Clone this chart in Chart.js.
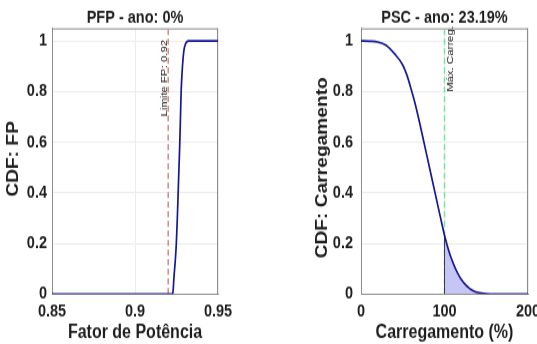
<!DOCTYPE html>
<html><head><meta charset="utf-8">
<script src="https://cdn.jsdelivr.net/npm/chart.js@4"></script>
<style>
html,body{margin:0;padding:0;background:#fff;overflow:hidden;width:537px;height:344px;}
#wrap{position:relative;width:537px;height:344px;overflow:hidden;}
canvas{position:absolute;top:0;}
</style></head><body>
<div id="wrap">
<canvas id="c1" width="250" height="287" style="left:0px;width:250px;height:344px;"></canvas>
<canvas id="c2" width="280" height="287" style="left:290px;width:280px;height:344px;"></canvas>
</div>
<script>
// ---- data ----
const fpX = [0.85, 0.922, 0.9228, 0.9235, 0.9243, 0.9249, 0.9255, 0.9260, 0.9265, 0.9270, 0.9274, 0.9278, 0.9286, 0.9294, 0.9302, 0.9312, 0.9322, 0.95];
const fpY = [0, 0, 0.005, 0.069, 0.135, 0.2, 0.3, 0.4, 0.5, 0.6, 0.7, 0.8, 0.9, 0.96, 0.984, 0.997, 1, 1];
const fpLimit = 0.92;
const fpLimitLabel = 'Limite FP: 0.92';
const fpXTicks = [0.85, 0.9, 0.95];

const carX = [0, 10, 20, 30, 40, 50, 55, 60, 65, 70, 75, 80, 85, 90, 95, 100, 105, 110, 115, 120, 125, 130, 135, 140, 150, 160, 200];
const carY = [1, 0.999, 0.996, 0.983, 0.95, 0.905, 0.865, 0.81, 0.75, 0.68, 0.605, 0.53, 0.455, 0.38, 0.305, 0.2319, 0.172, 0.125, 0.087, 0.058, 0.037, 0.022, 0.012, 0.006, 0.001, 0, 0];
const carLimit = 100;
const carLimitLabel = 'Máx. Carreg.';
const carXTicks = [0, 100, 200];

const yTicks = [0, 0.2, 0.4, 0.6, 0.8, 1];
const yMax = 1.05;

const titles = ['PFP - ano: 0%', 'PSC - ano: 23.19%'];
const xTitles = ['Fator de Potência', 'Carregamento (%)'];
const yTitles = ['CDF: FP', 'CDF: Carregamento'];

// ---- style ----
const FONT = '"Liberation Sans", Arial, Helvetica, sans-serif';
const TXT = '#1e1e1e';
const NAVY = 'rgb(22,22,150)';
const BOXC = '#8c8c8c';
const GRIDC = '#ececec';

function pts(xs, ys){ return xs.map((x,i)=>({x:x, y:ys[i]})); }

function scales(xmin, xmax, xticks, yW, yPad){
  return {
    x:{type:'linear',min:xmin,max:xmax,
      afterBuildTicks:s=>{s.ticks = xticks.map(v=>({value:v}));},
      afterFit:s=>{s.height = 41.7;},
      grid:{color:GRIDC,drawTicks:false},
      border:{color:BOXC},
      ticks:{padding:6,color:TXT,maxRotation:0,autoSkip:false,font:{family:FONT,size:14.5,weight:'bold'},callback:v=>String(v)}},
    y:{type:'linear',min:0,max:yMax,
      afterBuildTicks:s=>{s.ticks = yTicks.map(v=>({value:v}));},
      afterFit:s=>{s.width = yW;},
      grid:{color:GRIDC,drawTicks:false},
      border:{color:BOXC},
      ticks:{padding:yPad,color:TXT,autoSkip:false,font:{family:FONT,size:14.5,weight:'bold'},callback:v=>String(v)}}
  };
}

function textPlugin(idx, yTitleX, yTitleY, limitVal, limitLabel, side){
  return {
    id:'texts'+idx,
    beforeDatasetsDraw(chart){
      const ctx = chart.ctx, a = chart.chartArea;
      ctx.save();
      ctx.strokeStyle = BOXC; ctx.lineWidth = 1;
      ctx.beginPath();
      ctx.moveTo(a.left, a.top+0.5); ctx.lineTo(a.right, a.top+0.5);
      ctx.moveTo(a.right-0.5, a.top); ctx.lineTo(a.right-0.5, a.bottom);
      ctx.stroke();
      ctx.restore();
    },
    afterDraw(chart){
      const ctx = chart.ctx, a = chart.chartArea;
      const cx = (a.left + a.right)/2;
      ctx.save();
      ctx.fillStyle = TXT;
      ctx.textAlign = 'center'; ctx.textBaseline = 'middle';
      ctx.font = 'bold 14.5px ' + FONT;
      ctx.fillText(titles[idx], cx, 14.5);
      ctx.font = 'bold 16px ' + FONT;
      ctx.fillText(xTitles[idx], cx, 278);
      ctx.save();
      ctx.translate(yTitleX, yTitleY);
      ctx.rotate(-Math.PI/2);
      ctx.fillText(yTitles[idx], 0, 0);
      ctx.restore();
      // xline label
      const lx = chart.scales.x.getPixelForValue(limitVal);
      ctx.font = '9.5px ' + FONT;
      ctx.fillStyle = '#1a1a1a';
      ctx.save();
      if (side === 'left'){
        ctx.translate(lx - 1.2, 33.3);
        ctx.rotate(-Math.PI/2);
        ctx.textAlign = 'right'; ctx.textBaseline = 'alphabetic';
      } else {
        ctx.translate(lx + 0.8, 21.7);
        ctx.rotate(-Math.PI/2);
        ctx.textAlign = 'right'; ctx.textBaseline = 'top';
      }
      ctx.fillText(limitLabel, 0, 0);
      ctx.restore();
      ctx.restore();
    }
  };
}

const common = {
  responsive:false, animation:false, devicePixelRatio:1,
  plugins:{legend:{display:false}, tooltip:{enabled:false}},
  elements:{point:{radius:0}}
};

new Chart(document.getElementById('c1'), {
  type:'line',
  data:{datasets:[
    {data:pts(fpX, fpY), borderColor:NAVY, borderWidth:1.7, cubicInterpolationMode:'monotone', fill:false},
    {data:[{x:fpLimit,y:0},{x:fpLimit,y:yMax}], borderColor:'rgb(210,135,130)', borderWidth:1.5, borderDash:[5,3], fill:false}
  ]},
  options:Object.assign({}, common, {
    layout:{padding:{top:23.6, right:32, left:0, bottom:0}},
    scales:scales(0.85, 0.95, fpXTicks, 52, 5)
  }),
  plugins:[textPlugin(0, 14, 132.5, fpLimit, fpLimitLabel, 'left')]
});

const fillX = carX.filter(x=>x>=carLimit);
const fillY = carY.slice(carX.indexOf(carLimit));
const carAtLimit = carY[carX.indexOf(carLimit)];

new Chart(document.getElementById('c2'), {
  type:'line',
  data:{datasets:[
    {data:pts(carX, carY), borderColor:NAVY, borderWidth:1.7, cubicInterpolationMode:'monotone', fill:false},
    {data:[{x:carLimit,y:0},{x:carLimit,y:carAtLimit}], borderColor:'#3a3a4a', borderWidth:1, fill:false},
    {data:[{x:carLimit,y:0},{x:carLimit,y:yMax}], borderColor:'rgb(120,225,150)', borderWidth:1.5, borderDash:[5,3], fill:false},
    {data:pts(fillX, fillY), borderColor:'rgba(0,0,0,0)', borderWidth:0, backgroundColor:'rgb(198,198,246)', cubicInterpolationMode:'monotone', fill:'origin'}
  ]},
  options:Object.assign({}, common, {
    layout:{padding:{top:23.6, right:42, left:0, bottom:0}},
    scales:scales(0, 200, carXTicks, 71, 8)
  }),
  plugins:[textPlugin(1, 33, 140, carLimit, carLimitLabel, 'right')]
});
</script>
</body></html>
